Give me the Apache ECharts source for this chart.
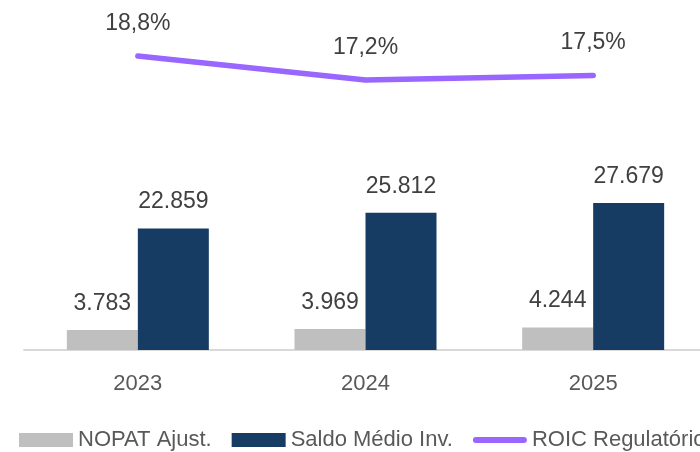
<!DOCTYPE html>
<html>
<head>
<meta charset="utf-8">
<script src="https://cdn.jsdelivr.net/npm/echarts@6/dist/echarts.min.js"></script>
<style>
  html, body { margin: 0; padding: 0; background: #fff; }
  #main { width: 700px; height: 452px; }
</style>
</head>
<body>
<div id="main"></div>
<script>
// dados do gráfico
var anos = ['2023', '2024', '2025'];
var nopat = [3783, 3969, 4244];
var saldoMedio = [22859, 25812, 27679];
var roic = [18.8, 17.2, 17.5];

var myChart = echarts.init(document.getElementById('main'));

function fmtMil(v) {
  return String(v).replace(/\B(?=(\d{3})+(?!\d))/g, '.');
}

var fonte = 'Liberation Sans, Arial, sans-serif';
var roxo = '#9966ff';

var option = {
  animation: false,
  textStyle: { fontFamily: fonte },
  grid: { left: 24, top: 10, width: 683, bottom: 102, containLabel: false, outerBoundsMode: 'none' },
  legend: {
    left: 19,
    top: 429,
    width: 1200,
    padding: 0,
    itemWidth: 54,
    itemHeight: 14,
    itemGap: 20,
    textStyle: { fontSize: 22, color: '#595959', fontFamily: fonte },
    data: [
      { name: 'NOPAT Ajust.', icon: 'rect' },
      { name: 'Saldo Médio Inv.', icon: 'rect' },
      { name: 'ROIC Regulatório', icon: 'path://M3,0 L51,0 A3,3 0 0 1 51,6 L3,6 A3,3 0 0 1 3,0 Z' }
    ]
  },
  xAxis: {
    type: 'category',
    data: anos,
    axisLine: { lineStyle: { color: '#d9d9d9', width: 2 } },
    axisTick: { show: false },
    axisLabel: { fontSize: 22, color: '#595959', margin: 23 }
  },
  yAxis: [
    { type: 'value', min: 0, max: 64000, show: false, splitLine: { show: false } },
    { type: 'value', min: -0.8, max: 21.867, show: false, splitLine: { show: false } }
  ],
  series: [
    {
      name: 'NOPAT Ajust.',
      type: 'bar',
      data: nopat,
      barWidth: 71,
      barGap: 0,
      itemStyle: { color: '#bfbfbf' },
      label: { show: true, position: 'top', distance: 15, fontSize: 23, color: '#404040', formatter: function (p) { return fmtMil(p.value); } }
    },
    {
      name: 'Saldo Médio Inv.',
      type: 'bar',
      data: saldoMedio,
      barWidth: 71,
      barGap: 0,
      itemStyle: { color: '#173c63' },
      label: { show: true, position: 'top', distance: 15, fontSize: 23, color: '#404040', formatter: function (p) { return fmtMil(p.value); } }
    },
    {
      name: 'ROIC Regulatório',
      type: 'line',
      yAxisIndex: 1,
      data: roic,
      symbol: 'none',
      lineStyle: { color: roxo, width: 5.5, cap: 'round', join: 'round' },
      itemStyle: { color: roxo }
    },
    {
      // só os rótulos da linha
      name: 'rotulos',
      type: 'scatter',
      yAxisIndex: 1,
      data: roic,
      symbolSize: 0,
      silent: true,
      itemStyle: { opacity: 1 },
      label: { show: true, position: 'top', distance: 21, fontSize: 23, color: '#404040', formatter: function (p) { return p.value.toFixed(1).replace('.', ',') + '%'; } }
    }
  ]
};

myChart.setOption(option);
</script>
</body>
</html>
